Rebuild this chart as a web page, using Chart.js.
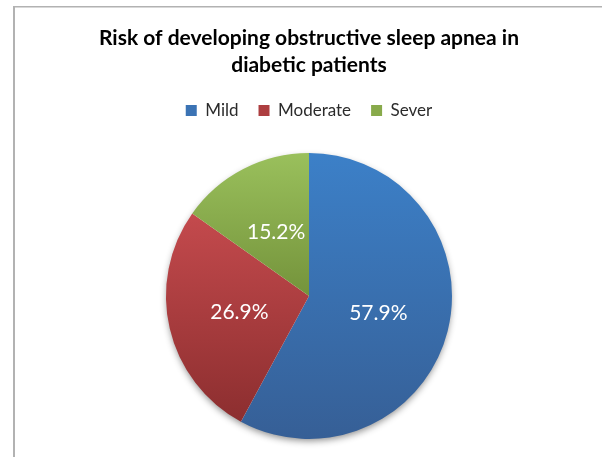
<!DOCTYPE html>
<html><head><meta charset="utf-8">
<script src="https://cdn.jsdelivr.net/npm/chart.js@4/dist/chart.umd.min.js"></script>
<style>html,body{margin:0;padding:0;background:#fff;overflow:hidden}#wrap{position:relative;width:602px;height:457px}</style>
</head><body><div id="wrap"><canvas id="c" width="602" height="457"></canvas></div>
<script>
const categories = ['Mild', 'Moderate', 'Sever'];
const values = [57.9, 26.9, 15.2];
const titleLines = ['Risk of developing obstructive sleep apnea in', 'diabetic patients'];
const legendColors = ['#3B73B4', '#AD3E40', '#88AA4B'];
const gradientTops = ['#3C80C8', '#C44A4D', '#9AC05C'];
const gradientBottoms = ['#365F96', '#8C2E2F', '#74933B'];

const framePlugin = {
  id: 'frame',
  beforeDraw(chart) {
    const ctx = chart.ctx;
    ctx.save();
    ctx.fillStyle = '#ffffff';
    ctx.fillRect(0, 0, chart.width, chart.height);
    ctx.fillStyle = '#b2b2b2';
    ctx.fillRect(13, 6, chart.width - 13, 1.5);
    ctx.fillRect(13, 6, 2, chart.height - 6);
    ctx.restore();
  }
};

const pieStylePlugin = {
  id: 'pieStyle',
  beforeDatasetsDraw(chart) {
    const meta = chart.getDatasetMeta(0);
    const ctx = chart.ctx;
    meta.data.forEach((el, i) => {
      const r = el.outerRadius, cy = el.y, a0 = el.startAngle, a1 = el.endAngle;
      const ys = [cy, cy + r * Math.sin(a0), cy + r * Math.sin(a1)];
      for (let k = -4; k <= 4; k++) {
        const a = Math.PI / 2 + k * Math.PI;
        if (a >= a0 && a <= a1) ys.push(cy + r * Math.sin(a));
      }
      const top = Math.min(...ys), bot = Math.max(...ys);
      const g = ctx.createLinearGradient(0, top, 0, bot);
      g.addColorStop(0, gradientTops[i]);
      g.addColorStop(1, gradientBottoms[i]);
      el.options.backgroundColor = g;
    });
    const el0 = meta.data[0];
    ctx.save();
    ctx.shadowColor = 'rgba(0,0,0,0.45)';
    ctx.shadowBlur = 7;
    ctx.shadowOffsetX = 0;
    ctx.shadowOffsetY = 3;
    ctx.fillStyle = '#ffffff';
    ctx.beginPath();
    ctx.arc(el0.x, el0.y, el0.outerRadius - 1, 0, Math.PI * 2);
    ctx.fill();
    ctx.restore();
  },
  afterDatasetsDraw(chart) {
    const meta = chart.getDatasetMeta(0);
    const ctx = chart.ctx;
    ctx.save();
    ctx.fillStyle = '#ffffff';
    ctx.font = '21px Lato';
    ctx.textAlign = 'center';
    ctx.textBaseline = 'middle';
    meta.data.forEach((el, i) => {
      const p = el.tooltipPosition();
      ctx.fillText(values[i].toFixed(1) + '%', p.x, p.y);
    });
    ctx.restore();
  }
};

new Chart(document.getElementById('c'), {
  type: 'pie',
  data: {
    labels: categories,
    datasets: [{ data: values, backgroundColor: legendColors, borderWidth: 0, hoverOffset: 0 }]
  },
  options: {
    responsive: false,
    animation: false,
    events: [],
    layout: { padding: { top: 0, left: 16, right: 0, bottom: 18 } },
    plugins: {
      title: {
        display: true, text: titleLines, color: '#000000',
        font: { family: 'Lato', size: 21, weight: 'bold', lineHeight: '27px' },
        padding: { top: 25, bottom: 3 }
      },
      subtitle: {
        display: true, text: '', weight: 500,
        font: { size: 1, lineHeight: '1px' },
        padding: { top: 23, bottom: 0 }
      },
      legend: {
        position: 'top',
        labels: { boxWidth: 11, boxHeight: 11, padding: 20, color: '#2b2b2b', font: { family: 'Lato', size: 17 } }
      },
      tooltip: { enabled: false }
    }
  },
  plugins: [framePlugin, pieStylePlugin]
});
</script></body></html>
